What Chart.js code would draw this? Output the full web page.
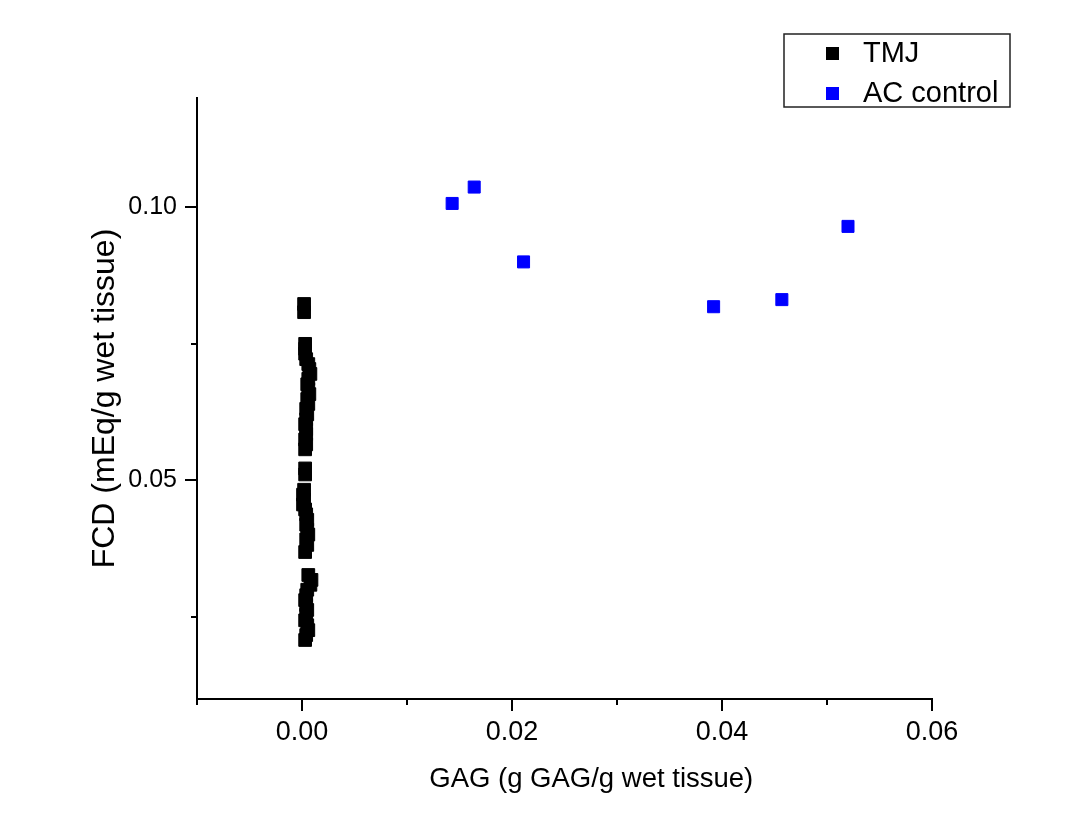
<!DOCTYPE html>
<html>
<head>
<meta charset="utf-8">
<title>FCD vs GAG</title>
<script src="https://cdn.jsdelivr.net/npm/chart.js"></script>
<style>
    html, body { margin: 0; padding: 0; background: #ffffff; }
    #wrap { width: 1068px; height: 833px; }
</style>
</head>
<body>
<div id="wrap"><canvas id="fcd-chart" width="1068" height="833"></canvas></div>
<script>
// Data
const seriesNames = ['TMJ', 'AC control'];
const seriesColors = ['#000000', '#0000ff'];

const tmjGag = [0.0002, 0.0002,
                0.0003, 0.0003, 0.0003, 0.0004, 0.0006, 0.0007, 0.0008, 0.0006, 0.0005, 0.0006, 0.0007,
                0.0005, 0.0006, 0.0004, 0.0005, 0.0004, 0.0003, 0.0004, 0.0004, 0.0003, 0.0004, 0.0003,
                0.0003, 0.0003,
                0.0002, 0.0001, 0.0002, 0.0001, 0.0003, 0.0004, 0.0005, 0.0004, 0.0005, 0.0006, 0.0004, 0.0005, 0.0003,
                0.0006, 0.0009, 0.0008, 0.0005, 0.0004, 0.0003, 0.0004, 0.0005, 0.0004, 0.0003, 0.0005, 0.0006, 0.0004, 0.0003];
const tmjFcd = [0.0823, 0.0808,
                0.0750, 0.0741, 0.0732, 0.0722, 0.0713, 0.0704, 0.0695, 0.0686, 0.0676, 0.0667, 0.0658,
                0.0649, 0.0640, 0.0631, 0.0621, 0.0612, 0.0603, 0.0594, 0.0585, 0.0575, 0.0566, 0.0557,
                0.0522, 0.0511,
                0.0483, 0.0474, 0.0465, 0.0456, 0.0447, 0.0438, 0.0428, 0.0419, 0.0410, 0.0401, 0.0392, 0.0382, 0.0369,
                0.0327, 0.0318, 0.0309, 0.0300, 0.0290, 0.0281, 0.0272, 0.0263, 0.0254, 0.0244, 0.0235, 0.0226, 0.0217, 0.0208];

const acGag = [0.0143, 0.0164, 0.0211, 0.0392, 0.0457, 0.0520];
const acFcd = [0.1007, 0.1037, 0.0900, 0.0818, 0.0831, 0.0965];

const xTicks = [-0.01, 0, 0.01, 0.02, 0.03, 0.04, 0.05, 0.06];
const xTickLabels = ['', '0.00', '', '0.02', '', '0.04', '', '0.06'];
const yTicks = [0.025, 0.05, 0.075, 0.10];
const yTickLabels = ['', '0.05', '', '0.10'];

const font = "'Liberation Sans', Arial, sans-serif";

const toPoints = (xs, ys) => xs.map((x, i) => ({ x: x, y: ys[i] }));

// tick marks: long for labelled ticks, short for the others
const tickMarks = {
    id: 'tickMarks',
    afterDraw(chart) {
        const { ctx, scales: { x, y } } = chart;
        ctx.save();
        ctx.strokeStyle = '#000';
        ctx.lineWidth = 2;
        ctx.beginPath();
        xTicks.forEach((v, i) => {
            const px = Math.round(x.getPixelForValue(v));
            ctx.moveTo(px, x.top);
            ctx.lineTo(px, x.top + (xTickLabels[i] ? 12 : 6));
        });
        yTicks.forEach((v, i) => {
            const py = Math.round(y.getPixelForValue(v));
            ctx.moveTo(y.right, py);
            ctx.lineTo(y.right - (yTickLabels[i] ? 12 : 6), py);
        });
        ctx.stroke();
        ctx.restore();
    }
};

// boxed legend floating in the top right corner
const boxLegend = {
    id: 'boxLegend',
    afterDraw(chart) {
        const { ctx } = chart;
        ctx.save();
        ctx.strokeStyle = '#222';
        ctx.lineWidth = 1.5;
        ctx.strokeRect(784, 34, 226, 73);
        ctx.font = '29px ' + font;
        ctx.textBaseline = 'middle';
        chart.data.datasets.forEach((ds, i) => {
            const cy = 53 + i * 40;
            ctx.fillStyle = ds.backgroundColor;
            ctx.fillRect(826, cy - 6, 13, 13);
            ctx.fillStyle = '#000';
            ctx.fillText(ds.label, 863, cy + 1);
        });
        ctx.restore();
    }
};

const ctx = document.getElementById('fcd-chart').getContext('2d');
new Chart(ctx, {
    type: 'scatter',
    data: {
        datasets: [
            {
                label: seriesNames[0],
                data: toPoints(tmjGag, tmjFcd),
                backgroundColor: seriesColors[0],
                borderColor: seriesColors[0],
                borderWidth: 1,
                pointStyle: 'rect',
                pointRadius: 9,
                pointHoverRadius: 9
            },
            {
                label: seriesNames[1],
                data: toPoints(acGag, acFcd),
                backgroundColor: seriesColors[1],
                borderColor: seriesColors[1],
                borderWidth: 1,
                pointStyle: 'rect',
                pointRadius: 8.5,
                pointHoverRadius: 8.5
            }
        ]
    },
    options: {
        responsive: false,
        animation: false,
        layout: { padding: { left: 80, top: 98, right: 136, bottom: 37 } },
        scales: {
            x: {
                type: 'linear',
                min: -0.01,
                max: 0.06,
                afterBuildTicks: (scale) => { scale.ticks = xTicks.map(v => ({ value: v })); },
                afterFit: (scale) => { scale.height = 97; },
                grid: { drawOnChartArea: false, drawTicks: false },
                border: { display: true, color: '#000', width: 2 },
                ticks: {
                    color: '#000',
                    padding: 17,
                    maxRotation: 0,
                    autoSkip: false,
                    font: { family: font, size: 27 },
                    callback: (v, i) => xTickLabels[i]
                },
                title: {
                    display: true,
                    // leading spaces push the centred title a little to the right, as in the figure
                    text: '       GAG (g GAG/g wet tissue)',
                    color: '#000',
                    padding: { top: 0, bottom: 0 },
                    font: { family: font, size: 27.5 }
                }
            },
            y: {
                type: 'linear',
                min: 0.01,
                max: 0.12,
                afterBuildTicks: (scale) => { scale.ticks = yTicks.map(v => ({ value: v })); },
                afterFit: (scale) => { scale.width = 117; },
                grid: { drawOnChartArea: false, drawTicks: false },
                border: { display: true, color: '#000', width: 2 },
                ticks: {
                    color: '#000',
                    padding: 20,
                    autoSkip: false,
                    font: { family: font, size: 25 },
                    callback: (v, i) => yTickLabels[i]
                },
                title: {
                    display: true,
                    text: 'FCD (mEq/g wet tissue)',
                    color: '#000',
                    padding: { top: 6, bottom: 0 },
                    font: { family: font, size: 32 }
                }
            }
        },
        plugins: {
            legend: { display: false },
            tooltip: { enabled: false }
        }
    },
    plugins: [tickMarks, boxLegend]
});
</script>
</body>
</html>
